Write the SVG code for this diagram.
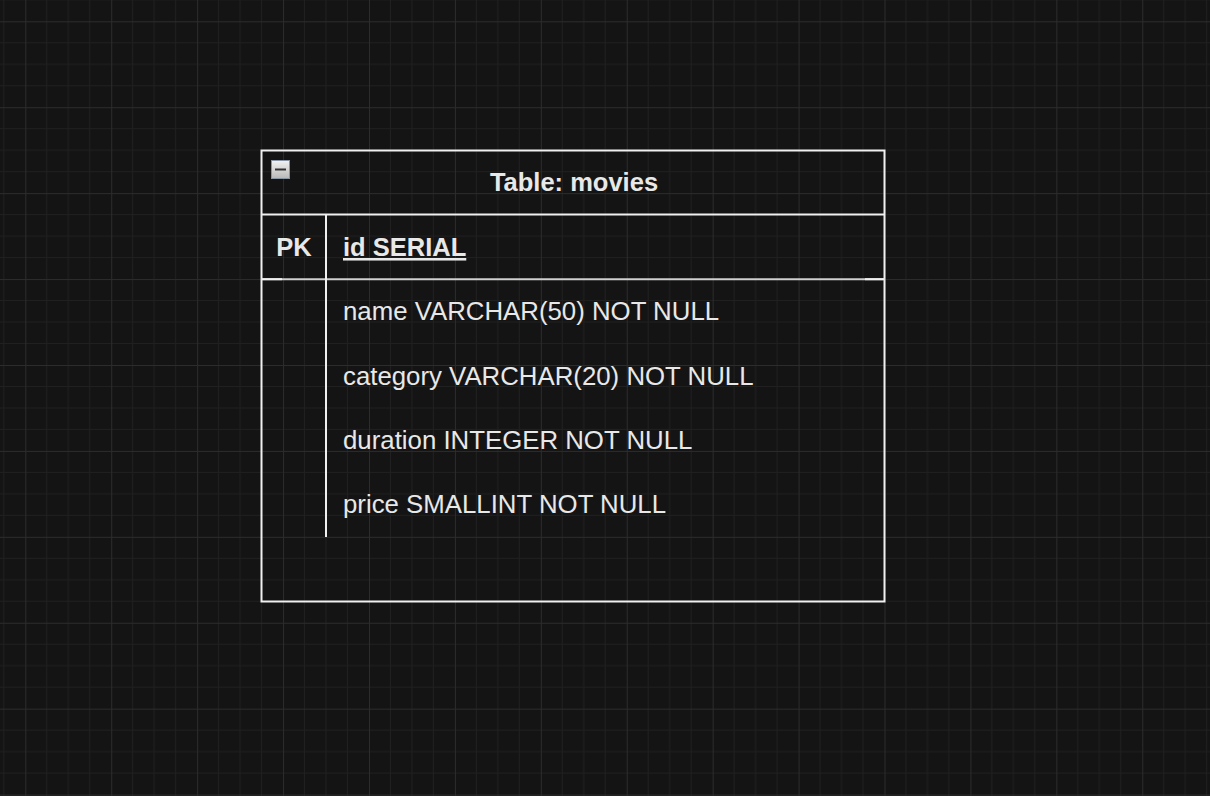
<svg xmlns="http://www.w3.org/2000/svg" width="1210" height="796" viewBox="0 0 1210 796">
<defs>
<pattern id="grid" patternUnits="userSpaceOnUse" x="25.3" y="21.3" width="85.92" height="85.92">
<path d="M21.48 0V85.92M42.96 0V85.92M64.44 0V85.92M0 21.48H85.92M0 42.96H85.92M0 64.44H85.92" stroke="#202020" stroke-width="1" fill="none"/>
<path d="M0.5 0V85.92M0 0.5H85.92" stroke="#2c2c2c" stroke-width="1" fill="none"/>
</pattern>
<linearGradient id="btn" x1="0" y1="0" x2="0" y2="1">
<stop offset="0" stop-color="#f2f2f2"/>
<stop offset="1" stop-color="#b8b8b8"/>
</linearGradient>
<style>
.ln{stroke:#f0f0f0;stroke-width:2;fill:none}
.t{font-family:"Liberation Sans",Arial,sans-serif;font-size:25.8px;fill:#e8e8e8}
.b{font-weight:bold;font-size:25.5px}
</style>
</defs>
<rect width="1210" height="796" fill="#141414"/>
<rect width="1210" height="796" fill="url(#grid)"/>
<g id="table-movies">
<rect x="261.5" y="150.5" width="623" height="451" fill="#141414" class="ln"/>
<line x1="261.5" y1="214.5" x2="884.5" y2="214.5" class="ln"/>
<line x1="261.5" y1="279.2" x2="884.5" y2="279.2" stroke="#cfcfcf" stroke-width="2"/>
<line x1="261.5" y1="279.2" x2="282" y2="279.2" class="ln"/>
<line x1="865" y1="279.2" x2="884.5" y2="279.2" class="ln"/>
<line x1="326" y1="214.5" x2="326" y2="537" class="ln"/>
<rect x="271.5" y="160.5" width="18" height="18" fill="url(#btn)" stroke="#8a95a3" stroke-width="1"/>
<line x1="275" y1="169.5" x2="286" y2="169.5" stroke="#333" stroke-width="2"/>
<text x="574" y="191" text-anchor="middle" class="t b">Table: movies</text>
<text x="294" y="256" text-anchor="middle" class="t b">PK</text>
<text x="343" y="256" class="t b" text-decoration="underline">id SERIAL</text>
<text x="343" y="320" class="t">name VARCHAR(50) NOT NULL</text>
<text x="343" y="385" class="t">category VARCHAR(20) NOT NULL</text>
<text x="343" y="449" class="t">duration INTEGER NOT NULL</text>
<text x="343" y="513" class="t">price SMALLINT NOT NULL</text>
</g>
<g id="connectors"/>
</svg>
